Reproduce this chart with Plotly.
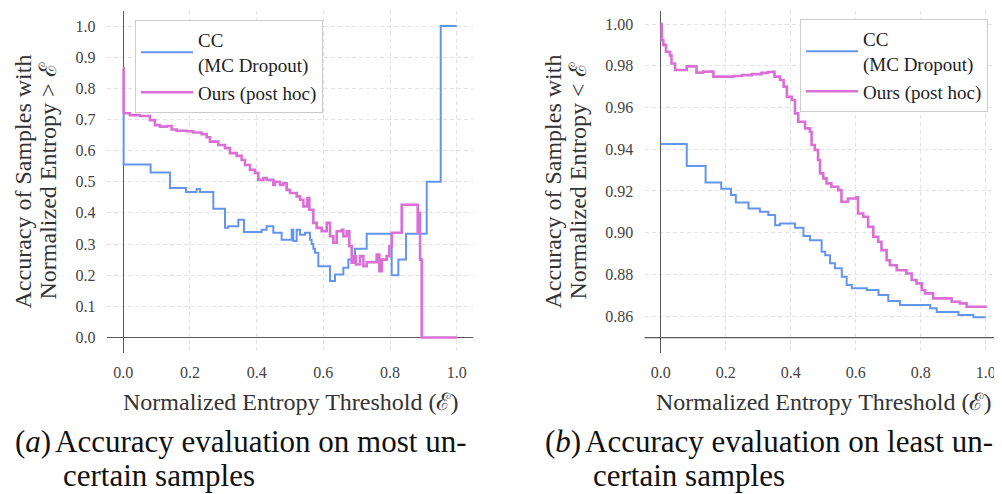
import plotly.graph_objects as go

# ---------------- data ----------------
# (a) most uncertain samples: accuracy of samples with normalized entropy > threshold
a_cc_x = [0, 0.001, 0.082, 0.14, 0.188, 0.22, 0.23, 0.27, 0.305, 0.315, 0.345, 0.362, 0.415, 0.43,
          0.45, 0.475, 0.505, 0.51, 0.52, 0.53, 0.545, 0.56, 0.565, 0.57, 0.575, 0.585, 0.62, 0.635,
          0.66, 0.675, 0.695, 0.73, 0.805, 0.825, 0.848, 0.91, 0.952, 1.0]
a_cc_y = [0.715, 0.555, 0.53, 0.48, 0.467, 0.477, 0.467, 0.413, 0.352, 0.357, 0.378, 0.339, 0.346, 0.357,
          0.336, 0.314, 0.346, 0.31, 0.346, 0.33, 0.336, 0.314, 0.3, 0.285, 0.272, 0.229, 0.181, 0.202,
          0.224, 0.25, 0.285, 0.333, 0.2, 0.25, 0.333, 0.5, 1.0, 1.0]

a_ours_x = [0, 0.001, 0.02, 0.05, 0.08, 0.095, 0.11, 0.13, 0.145, 0.16, 0.19, 0.21, 0.235, 0.25, 0.26,
            0.285, 0.305, 0.32, 0.34, 0.355, 0.365, 0.38, 0.395, 0.405, 0.42, 0.43, 0.45, 0.455, 0.47,
            0.48, 0.49, 0.5, 0.52, 0.53, 0.54, 0.552, 0.558, 0.57, 0.58, 0.595, 0.61, 0.62, 0.63, 0.64,
            0.655, 0.66, 0.67, 0.678, 0.685, 0.692, 0.698, 0.71, 0.72, 0.73, 0.76, 0.768, 0.775, 0.79,
            0.798, 0.805, 0.83, 0.835, 0.88, 0.883, 0.887, 0.89, 0.895, 1.0]
a_ours_y = [0.864, 0.72, 0.714, 0.711, 0.698, 0.682, 0.677, 0.679, 0.668, 0.664, 0.662, 0.658, 0.653, 0.643,
            0.629, 0.618, 0.608, 0.592, 0.583, 0.57, 0.554, 0.538, 0.528, 0.506, 0.512, 0.506, 0.49, 0.5,
            0.49, 0.495, 0.474, 0.464, 0.453, 0.442, 0.421, 0.448, 0.41, 0.368, 0.352, 0.341, 0.368, 0.325,
            0.304, 0.341, 0.346, 0.325, 0.341, 0.293, 0.24, 0.261, 0.234, 0.261, 0.229, 0.242, 0.266, 0.213,
            0.25, 0.261, 0.293, 0.336, 0.336, 0.426, 0.426, 0.336, 0.4, 0.25, 0.0, 0.0]

# (b) least uncertain samples: accuracy of samples with normalized entropy < threshold
b_cc_x = [0, 0.08, 0.138, 0.186, 0.216, 0.231, 0.27, 0.305, 0.331, 0.352, 0.367, 0.413, 0.439, 0.459,
          0.495, 0.506, 0.521, 0.536, 0.557, 0.572, 0.588, 0.634, 0.67, 0.70, 0.736, 0.829, 0.849, 0.916,
          0.962, 1.0]
b_cc_y = [0.9425, 0.932, 0.924, 0.921, 0.918, 0.9145, 0.9116, 0.91, 0.9084, 0.9036, 0.9044, 0.9023, 0.8984,
          0.8964, 0.8908, 0.8892, 0.8853, 0.8829, 0.8789, 0.8749, 0.8733, 0.8725, 0.8701, 0.8672, 0.8653,
          0.8637, 0.862, 0.8605, 0.8594, 0.8594]

b_ours_x = [0, 0.003, 0.008, 0.016, 0.028, 0.033, 0.044, 0.08, 0.11, 0.13, 0.162, 0.223, 0.25, 0.28, 0.31,
            0.33, 0.346, 0.35, 0.367, 0.378, 0.388, 0.403, 0.413, 0.423, 0.444, 0.459, 0.464, 0.474, 0.484,
            0.49, 0.5, 0.51, 0.525, 0.546, 0.556, 0.576, 0.602, 0.607, 0.623, 0.638, 0.654, 0.669, 0.679,
            0.695, 0.705, 0.726, 0.756, 0.772, 0.787, 0.803, 0.813, 0.838, 0.895, 0.92, 0.941, 0.995, 1.0]
b_ours_y = [1.0, 0.9923, 0.990, 0.9867, 0.985, 0.9811, 0.978, 0.9797, 0.9767, 0.9772, 0.9748, 0.9751, 0.9755,
            0.976, 0.9766, 0.977, 0.9771, 0.9748, 0.9732, 0.970, 0.9651, 0.9636, 0.9572, 0.9532, 0.950,
            0.9484, 0.942, 0.9396, 0.9348, 0.9284, 0.926, 0.9236, 0.922, 0.9204, 0.9148, 0.9164, 0.9169,
            0.9092, 0.9076, 0.9028, 0.898, 0.8956, 0.8916, 0.8868, 0.8844, 0.882, 0.8804, 0.8773, 0.8757,
            0.8725, 0.8709, 0.8685, 0.8669, 0.8661, 0.8645, 0.8645, 0.864]

series_names = ["CC<br>(MC Dropout)", "Ours (post hoc)"]
x_ticks = [0.0, 0.2, 0.4, 0.6, 0.8, 1.0]
a_y_ticks = [0.0, 0.1, 0.2, 0.3, 0.4, 0.5, 0.6, 0.7, 0.8, 0.9, 1.0]
b_y_ticks = [0.86, 0.88, 0.90, 0.92, 0.94, 0.96, 0.98, 1.00]
b_base = 0.8497              # level of the bottom axis line in panel (b)
x_title = "Normalized Entropy Threshold (ℰ)"
a_y_title = ["Accuracy of Samples with", "Normalized Entropy > ℰ"]
b_y_title = ["Accuracy of Samples with", "Normalized Entropy < ℰ"]
captions = [("(<i>a</i>)", "Accuracy evaluation on most un-", "certain samples"),
            ("(<i>b</i>)", "Accuracy evaluation on least un-", "certain samples")]

# ---------------- style ----------------
OFF = 8                      # page body margin of the html page
W, H = 1002 - OFF, 494 - OFF
FONT = "Liberation Serif"
BLUE = "#6495ED"
PINK = "#DA70D6"
GRID = "#e3e3e3"
SPINE = "#5a5a5a"
TXT = "#333333"


def px(v):
    return (v - OFF) / W


def py(v):
    return 1 - (v - OFF) / H


fig = go.Figure()

fig.add_trace(go.Scatter(x=a_cc_x, y=a_cc_y, mode="lines", line=dict(color=BLUE, width=2, shape="hv"),
                         name=series_names[0], xaxis="x", yaxis="y", legend="legend"))
fig.add_trace(go.Scatter(x=a_ours_x, y=a_ours_y, mode="lines", line=dict(color=PINK, width=2.6, shape="hv"),
                         name=series_names[1], xaxis="x", yaxis="y", legend="legend"))
fig.add_trace(go.Scatter(x=b_cc_x, y=b_cc_y, mode="lines", line=dict(color=BLUE, width=2, shape="hv"),
                         name=series_names[0], xaxis="x2", yaxis="y2", legend="legend2"))
fig.add_trace(go.Scatter(x=b_ours_x, y=b_ours_y, mode="lines", line=dict(color=PINK, width=2.6, shape="hv"),
                         name=series_names[1], xaxis="x2", yaxis="y2", legend="legend2"))

top, bot = 10.5, 353.0
ax_common = dict(showgrid=True, gridcolor=GRID, gridwidth=1, griddash="4px,3px",
                 zeroline=True, zerolinecolor=SPINE, zerolinewidth=1.2,
                 showline=False, ticks="outside", tickcolor="rgba(0,0,0,0)",
                 tickfont=dict(family=FONT, size=16, color="#444444"))

leg = dict(xanchor="left", yanchor="top", bgcolor="rgba(255,255,255,0.9)", bordercolor="#cccccc",
           borderwidth=1, font=dict(family=FONT, size=19, color="#222222"), itemwidth=52)

fig.update_layout(
    width=W, height=H,
    margin=dict(l=0, r=0, t=0, b=0),
    paper_bgcolor="white", plot_bgcolor="white",
    font=dict(family=FONT, color=TXT),
    xaxis=dict(domain=[px(106.6), px(473.4)], range=[-0.05, 1.05], tickvals=x_ticks, tickformat=".1f",
               anchor="y", ticklen=5, **ax_common),
    yaxis=dict(domain=[py(bot), py(top)], range=[-0.05, 1.05], tickvals=a_y_ticks, tickformat=".1f",
               anchor="x", ticklen=7, **ax_common),
    xaxis2=dict(domain=[px(644.5), 1.0], range=[-0.05, 1.05], tickvals=x_ticks, tickformat=".1f",
                anchor="y2", ticklen=5, **ax_common),
    yaxis2=dict(domain=[py(bot), py(top)], range=[0.8423, 1.0065], tickvals=b_y_ticks, tickformat=".2f",
                anchor="x2", ticklen=7, **ax_common),
    legend=dict(x=px(135), y=py(20), **leg),
    legend2=dict(x=px(800), y=py(19), **leg),
)

# bottom axis line of panel (b) (its zero lies outside the visible range)
fig.add_shape(type="line", xref="x2 domain", yref="y2", x0=0, x1=1, y0=b_base, y1=b_base,
              line=dict(color=SPINE, width=1.2), layer="below")

ann = []
# x-axis titles
for cx in [(106.6 + 473.4) / 2, (644.5 + 1002) / 2]:
    ann.append(dict(text=x_title, x=px(cx), y=py(402), xref="paper", yref="paper", xanchor="center",
                    yanchor="middle", showarrow=False, font=dict(family=FONT, size=24, color=TXT)))
# y-axis titles (two lines each)
for (x1, x2), lines in [((23, 48), a_y_title), ((553, 578), b_y_title)]:
    for xx, t in zip((x1, x2), lines):
        ann.append(dict(text=t, x=px(xx), y=py(181.5), xref="paper", yref="paper", xanchor="center",
                        yanchor="middle", textangle=-90, showarrow=False,
                        font=dict(family=FONT, size=24, color=TXT)))
# captions
for x0, (lab, l1, l2) in zip([13, 543], captions):
    cap = dict(xref="paper", yref="paper", xanchor="left", yanchor="middle", showarrow=False,
               font=dict(family=FONT, size=31, color="#111111"))
    ann.append(dict(text=lab, x=px(x0), y=py(441), **cap))
    ann.append(dict(text=l1, x=px(x0 + 40), y=py(441), **cap))
    ann.append(dict(text=l2, x=px(x0 + 48), y=py(475), **cap))
fig.update_layout(annotations=ann)

fig.write_html("out.html")
